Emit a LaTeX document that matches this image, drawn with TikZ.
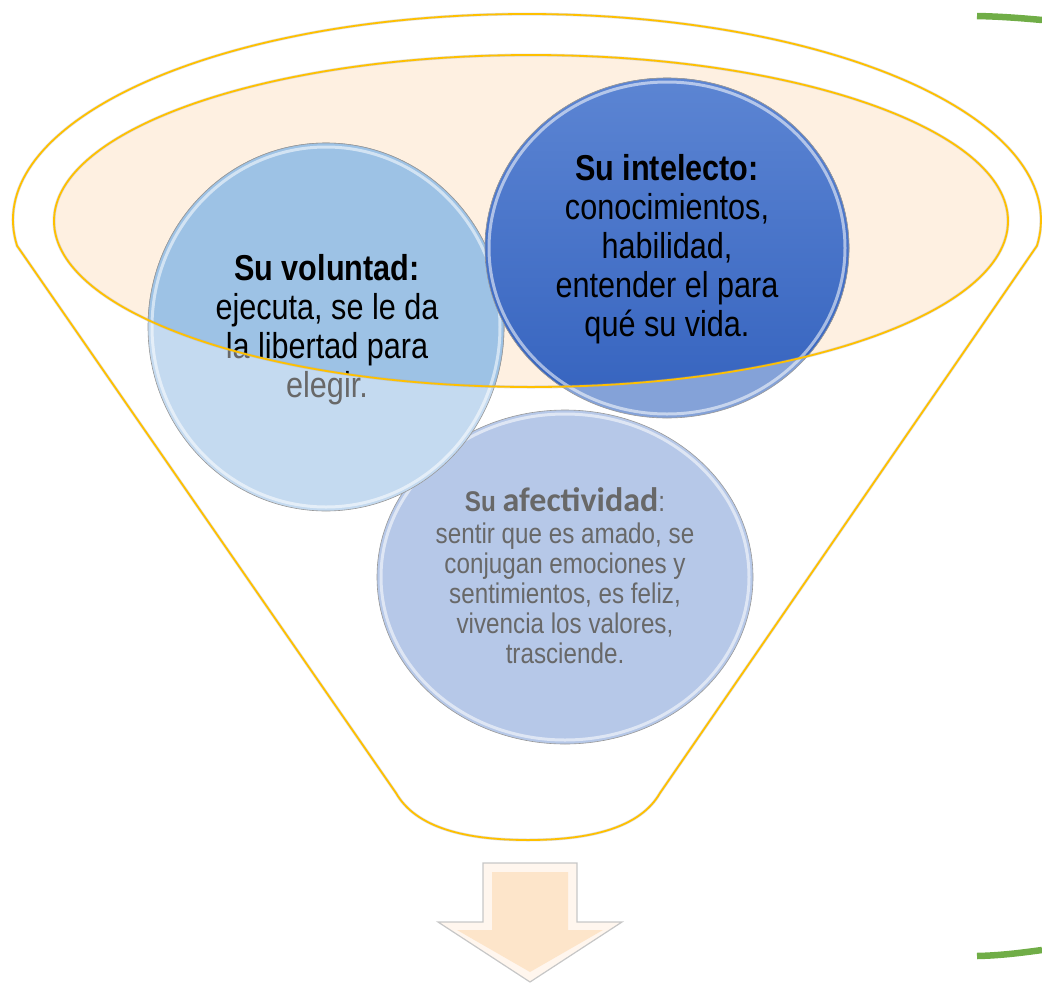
\documentclass[tikz,border=0pt]{standalone}
\usepackage{fontspec}
\setmainfont{Liberation Sans}
\newfontfamily\narrowf[FakeStretch=0.85]{Liberation Sans}
\newfontfamily\calib{Carlito}
\definecolor{gold}{HTML}{FFC000}
\definecolor{peach}{HTML}{FEF0E1}
\definecolor{volD}{HTML}{9DC2E5}
\definecolor{volL}{HTML}{C4DAF0}
\definecolor{intTop}{HTML}{5C85D3}
\definecolor{intBot}{HTML}{3462BE}
\definecolor{intL}{HTML}{84A2D8}
\definecolor{afe}{HTML}{B6C8E8}
\definecolor{txtgray}{HTML}{686868}
\definecolor{greenl}{HTML}{70AD47}
\definecolor{arrowin}{HTML}{FDE5CA}
\definecolor{arrowout}{HTML}{FFF6EE}
\tikzset{
  goldline/.style={draw=gold, line width=1.8pt},
  goldshadow/.style={draw=black!35, line width=3pt, opacity=0.35},
  rimwhite/.style={draw=white, line width=3pt, opacity=0.55},
  rimgray/.style={draw=black!40, line width=0.6pt},
  bigtext/.style={font=\narrowf\fontsize{36}{39}\selectfont, align=center, inner sep=0pt},
  smalltext/.style={font=\narrowf\fontsize{28.5}{30}\selectfont, align=center, inner sep=0pt},
  greenbar/.style={draw=greenl, line width=6.5pt},
}
\newcommand\voltext{{\bfseries Su voluntad:}\\ejecuta, se le da\\la libertad para\\elegir.}
\newcommand\inttext{{\bfseries Su intelecto:}\\conocimientos,\\habilidad,\\entender el para\\qué su vida.}
\begin{document}
\begin{tikzpicture}[x=1pt,y=-1pt]
\useasboundingbox (0,0) rectangle (1042,983);
% funnel outline
\coordinate (fc) at (527,220);
\path[fill=white,goldshadow] (fc) ++(172.8:514 and 206) arc[start angle=172.8, end angle=367.2, x radius=514, y radius=206]
  -- (660,793) .. controls (640,828) and (590,840) .. (528,840) .. controls (466,840) and (416,828) .. (396,793) -- cycle;
\path[goldline] (fc) ++(172.8:514 and 206) arc[start angle=172.8, end angle=367.2, x radius=514, y radius=206]
  -- (660,793) .. controls (640,828) and (590,840) .. (528,840) .. controls (466,840) and (416,828) .. (396,793) -- cycle;
% inner ellipse fill
\coordinate (ec) at (531,221);
\fill[peach] (ec) ellipse[x radius=477, y radius=166];
% afectividad
\coordinate (ac) at (565,577);
\fill[afe] (ac) ellipse[x radius=188, y radius=167];
\draw[rimwhite] (ac) ellipse[x radius=184, y radius=163];
\draw[rimgray] (ac) ellipse[x radius=188, y radius=167];
\node[smalltext, text=txtgray] (afetxt) at (565,576) {{\bfseries\fontsize{28.5}{30}\selectfont Su} {\calib\bfseries\fontsize{34}{30}\selectfont afectividad}:\\[2pt]sentir que es amado, se\\conjugan emociones y\\sentimientos, es feliz,\\vivencia los valores,\\trasciende.};
% voluntad (light)
\coordinate (vc) at (326,327);
\fill[volL] (vc) ellipse[x radius=178, y radius=184];
\draw[rimwhite] (vc) ellipse[x radius=174, y radius=180];
\draw[rimgray] (vc) ellipse[x radius=178, y radius=184];
\node[bigtext, text=txtgray] (voltxtL) at (327,330) {\voltext};
% intelecto (light)
\coordinate (ic) at (667,248);
\fill[intL] (ic) ellipse[x radius=182, y radius=170];
\draw[rimwhite] (ic) ellipse[x radius=178, y radius=166];
\draw[rimgray] (ic) ellipse[x radius=182, y radius=170];
% inside the ellipse: saturated versions
\begin{scope}
\clip (ec) ellipse[x radius=477, y radius=166];
\fill[volD] (vc) ellipse[x radius=178, y radius=184];
\draw[rimwhite] (vc) ellipse[x radius=174, y radius=180];
\draw[rimgray] (vc) ellipse[x radius=178, y radius=184];
\node[bigtext, text=black] (voltxtD) at (327,330) {\voltext};
\shade[top color=intTop, bottom color=intBot] (ic) ellipse[x radius=182, y radius=170];
\draw[rimwhite] (ic) ellipse[x radius=178, y radius=166];
\draw[rimgray] (ic) ellipse[x radius=182, y radius=170];
\end{scope}
\node[bigtext, text=black] (inttxt) at (667,249) {\inttext};
% inner ellipse outline
\draw[goldshadow] (ec) ellipse[x radius=477, y radius=166];
\draw[goldline] (ec) ellipse[x radius=477, y radius=166];
% arrow
\draw[draw=black!22, line width=1.2pt, fill=arrowout] (483,863) -- (577,863) -- (577,922) -- (622,922) -- (530,982) -- (438,922) -- (483,922) -- cycle;
\fill[arrowin] (492,872) -- (568,872) -- (568,930) -- (603,930) -- (530,972) -- (457,930) -- (492,930) -- cycle;
% green bars
\draw[greenbar] (977,16) .. controls (1000,16.5) and (1020,18) .. (1042,20);
\draw[greenbar] (977,956) .. controls (1000,955.5) and (1020,953) .. (1042,950);
\end{tikzpicture}
\end{document}
